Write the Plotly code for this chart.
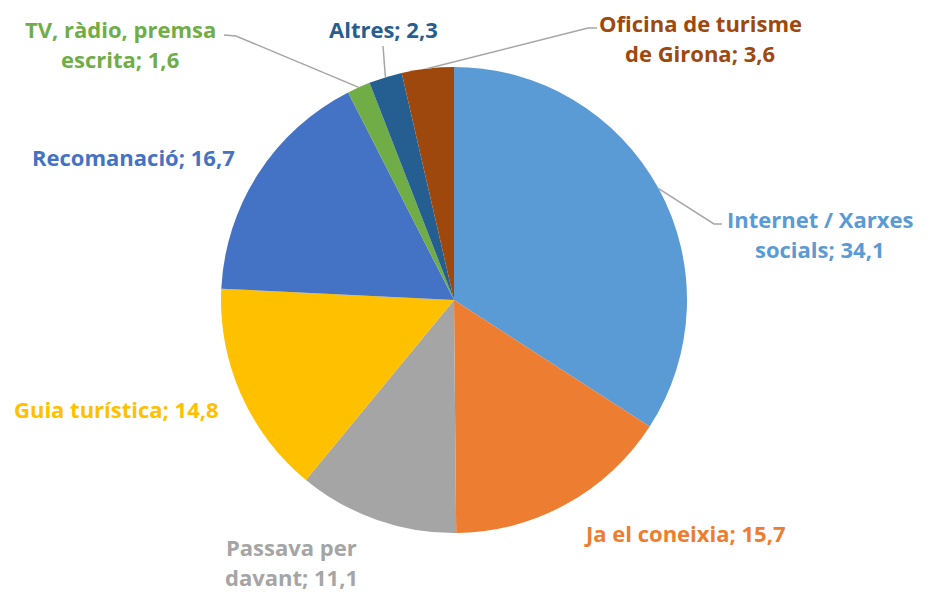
import math
import plotly.graph_objects as go

categories = ["Internet / Xarxes socials", "Ja el coneixia", "Passava per davant",
              "Guia turística", "Recomanació", "TV, ràdio, premsa escrita",
              "Altres", "Oficina de turisme de Girona"]
values = [34.1, 15.7, 11.1, 14.8, 16.7, 1.6, 2.3, 3.6]
colors = ["#5B9BD5", "#ED7D31", "#A5A5A5", "#FFC000", "#4472C4", "#70AD47",
          "#255E91", "#9E480E"]
# label text lines
label_lines = [["Internet / Xarxes", "socials; 34,1"],
               ["Ja el coneixia; 15,7"],
               ["Passava per", "davant; 11,1"],
               ["Guia turística; 14,8"],
               ["Recomanació; 16,7"],
               ["TV, ràdio, premsa", "escrita; 1,6"],
               ["Altres; 2,3"],
               ["Oficina de turisme", "de Girona; 3,6"]]

W, H = 931, 592
CX, CY, R = 454, 300, 233

# label centre positions (pixels) of first line
label_pos = [(820, 219), (685, 533), (291, 547), (116, 409), (133, 157),
             (120, 29), (383, 29), (700, 23)]
LINE_GAP = 30
# leader line starts (pixels), None = no leader
leader_start = [(722, 224), None, None, None, None, (224, 35), (383, 46), (597, 28)]
leader_elbow = [(714, 224), None, None, None, None, (236, 36), None, (588, 28)]

FONT = "'Open Sans', Lato, sans-serif"

fig = go.Figure(go.Pie(
    labels=categories, values=values, sort=False, direction="clockwise",
    rotation=0, marker=dict(colors=colors, line=dict(width=0)),
    textinfo="none", hoverinfo="label+value", showlegend=False,
    domain=dict(x=[(CX - R) / W, (CX + R) / W], y=[1 - (CY + R) / H, 1 - (CY - R) / H]),
))

def px(x, y):
    return x / W, 1 - y / H

annotations = []
for lines, (lx, ly), c in zip(label_lines, label_pos, colors):
    for i, t in enumerate(lines):
        x, y = px(lx, ly + i * LINE_GAP)
        annotations.append(dict(x=x, y=y, xref="paper", yref="paper", text="<b>%s</b>" % t,
                                showarrow=False, xanchor="center", yanchor="middle",
                                font=dict(family=FONT, size=22, color=c)))

shapes = []
total = sum(values)
cum = 0
for v, st, el in zip(values, leader_start, leader_elbow):
    mid = (cum + v / 2) / total * 2 * math.pi
    cum += v
    if st is None:
        continue
    ex = CX + R * math.sin(mid)
    ey = CY - R * math.cos(mid)
    pts = [st] + ([el] if el else []) + [(ex, ey)]
    path = "M " + " L ".join("%f,%f" % px(*p) for p in pts)
    shapes.append(dict(type="path", path=path, xref="paper", yref="paper",
                       line=dict(color="#A6A6A6", width=1.5)))

fig.update_layout(width=W, height=H, margin=dict(l=0, r=0, t=0, b=0),
                  paper_bgcolor="white", plot_bgcolor="white",
                  annotations=annotations, shapes=shapes)
fig.write_html("out.html", config={"displayModeBar": False},
               post_script="document.body.style.margin='0';document.body.style.overflow='hidden';")
